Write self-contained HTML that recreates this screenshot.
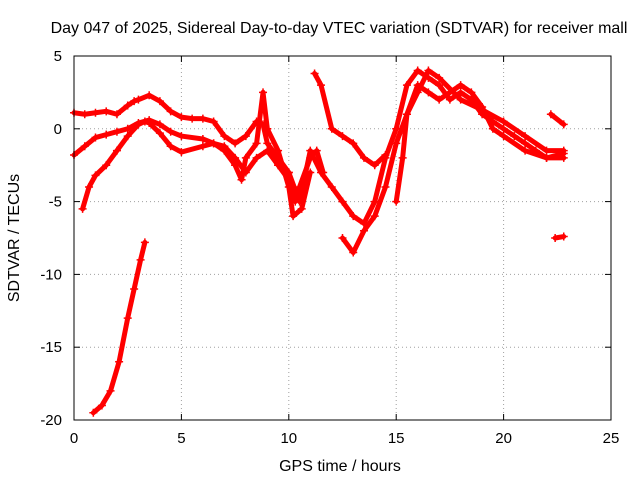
<!DOCTYPE html>
<html><head><meta charset="utf-8">
<style>
body{margin:0;background:#fff;}
svg{display:block;font-family:"Liberation Sans",sans-serif;}
</style></head>
<body>
<svg id="chart" width="640" height="480" viewBox="0 0 640 480" xmlns="http://www.w3.org/2000/svg">
<rect width="640" height="480" fill="#fff"/>
<text x="339" y="33" font-size="16" text-anchor="middle">Day 047 of 2025, Sidereal Day-to-day VTEC variation (SDTVAR) for receiver mall</text>
<text x="340" y="471" font-size="16" text-anchor="middle">GPS time / hours</text>
<text transform="translate(19,238) rotate(-90)" font-size="16" text-anchor="middle">SDTVAR / TECUs</text>
<g id="grid"></g><g id="ticks"></g><g id="series"></g>
<rect x="74" y="56" width="537" height="364" fill="none" stroke="#000" stroke-width="1"/>
</svg>
<script>
const xTicks=[0,5,10,15,20,25];
const yTicks=[-20,-15,-10,-5,0,5];
const traceA=[[0,1.1],[0.5,1.0],[1,1.1],[1.5,1.2],[2,1.0],[2.5,1.6],[2.8,1.9],[3,2.0],[3.5,2.3],[4,1.9],[4.5,1.2],[5,0.8],[5.5,0.7],[6,0.7],[6.5,0.5],[7,-0.5],[7.5,-1.0],[8,-0.5],[8.5,0.5],[8.8,0.3],[9,-1],[9.5,-2],[10,-3],[10.3,-5],[10.5,-4],[11,-2],[11.3,-1.5],[11.6,-3]];
const traceB=[[0,-1.8],[0.5,-1.2],[1,-0.6],[1.5,-0.4],[2,-0.2],[2.5,0],[3,0.4],[3.5,0.6],[4,0.3],[4.5,-0.2],[5,-0.5],[6,-0.7],[6.5,-1.0],[7,-1.5],[7.5,-2.5],[7.8,-3.5],[8,-2],[8.5,-1],[8.8,2.5],[9,0],[9.5,-1.5],[10,-4],[10.2,-6],[10.6,-5.5],[11,-3]];
const traceC=[[0.4,-5.5],[0.7,-4],[1,-3.2],[1.5,-2.5],[2,-1.5],[2.5,-0.5],[3,0.3],[3.3,0.5],[3.5,0.4],[4,-0.3],[4.5,-1.2],[5,-1.6],[6,-1.2],[6.5,-1.0],[7,-1.2],[7.5,-2],[8,-3],[8.5,-2],[9,-1.5],[9.5,-2.5],[10,-3.5]];
const traceD=[[0.9,-19.5],[1.3,-19],[1.7,-18],[2.1,-16],[2.5,-13],[2.8,-11],[3.1,-9],[3.3,-7.8]];
const traceE=[[11.2,3.8],[11.5,3],[12,0],[12.5,-0.5],[13,-1],[13.5,-2],[14,-2.5],[14.5,-1.8]];
const traceF=[[10,-3],[10.5,-5],[11,-1.5],[11.5,-3],[12,-4],[12.5,-5],[13,-6],[13.5,-6.5],[14,-5],[14.5,-2],[15,0],[15.5,3],[16,4],[16.5,3.5],[17,3],[17.5,2],[18,2.5],[18.5,2],[19,1],[19.5,0.5],[20,0],[20.5,-0.5],[21,-1],[21.5,-1.5],[22,-2],[22.8,-2]];
const traceG=[[12.5,-7.5],[13,-8.5],[13.5,-7],[14,-6],[14.5,-4],[15,-1],[15.5,1],[16,3],[16.5,2.5],[17,2],[18,3],[18.5,2.5],[19,1.5],[19.5,0],[20,-0.5],[21,-1.5],[22,-2],[22.8,-1.7]];
const traceH=[[15,-5],[15.3,-2],[15.5,1],[16,2.5],[16.5,4],[17,3.5],[18,2],[19,1.3],[20,0.5],[21,-0.5],[22,-1.5],[22.8,-1.5]];
const traceI=[[22.2,1.0],[22.8,0.3]];
const traceJ=[[22.4,-7.5],[22.8,-7.4]];
const traces=[traceA,traceB,traceC,traceD,traceE,traceF,traceG,traceH,traceI,traceJ];
const X0=74,X1=611,Y0=420,Y1=56;
function xs(v){return X0+(v-0)/(25-0)*(X1-X0);}
function ys(v){return Y0-(v+20)/(5+20)*(Y0-Y1);}
const NS="http://www.w3.org/2000/svg";
const grid=document.getElementById('grid'),ticks=document.getElementById('ticks'),ser=document.getElementById('series');
function mk(tag,attrs,parent){const e=document.createElementNS(NS,tag);for(const k in attrs)e.setAttribute(k,attrs[k]);parent.appendChild(e);return e;}
xTicks.forEach(t=>{
  const x=xs(t);
  if(t>0&&t<25){const g=mk('line',{x1:x,x2:x,y1:Y1,y2:Y0,stroke:'#a0a0a0','stroke-dasharray':'1,3'},grid);
  
  }
  mk('line',{x1:x,x2:x,y1:Y0,y2:Y0-6,stroke:'#000'},ticks);
  mk('line',{x1:x,x2:x,y1:Y1,y2:Y1+6,stroke:'#000'},ticks);
  const l=mk('text',{x:x,y:443,'font-size':15,'text-anchor':'middle'},ticks);l.textContent=t;
  
  
});
yTicks.forEach(t=>{
  const y=ys(t);
  if(t>-20&&t<5){const g=mk('line',{x1:X0,x2:X1,y1:y,y2:y,stroke:'#a0a0a0','stroke-dasharray':'1,3'},grid);
  
  }
  mk('line',{x1:X0,x2:X0+6,y1:y,y2:y,stroke:'#000'},ticks);
  mk('line',{x1:X1,x2:X1-6,y1:y,y2:y,stroke:'#000'},ticks);
  const l=mk('text',{x:62,y:y+5,'font-size':15,'text-anchor':'end'},ticks);l.textContent=t;
  
  
});
traces.forEach((tr,i)=>{
  const p=mk('polyline',{points:tr.map(d=>xs(d[0])+','+ys(d[1])).join(' '),fill:'none',stroke:'#ff0000','stroke-width':5,'stroke-linejoin':'round','stroke-linecap':'round'},ser);
  
  
  tr.forEach(d=>{
    const x=xs(d[0]),y=ys(d[1]);
    const m=mk('path',{d:`M${x-4},${y}H${x+4}M${x},${y-4}V${y+4}`,stroke:'#ff0000','stroke-width':1.5},ser);
    
    
  });
});
</script>
</body></html>
